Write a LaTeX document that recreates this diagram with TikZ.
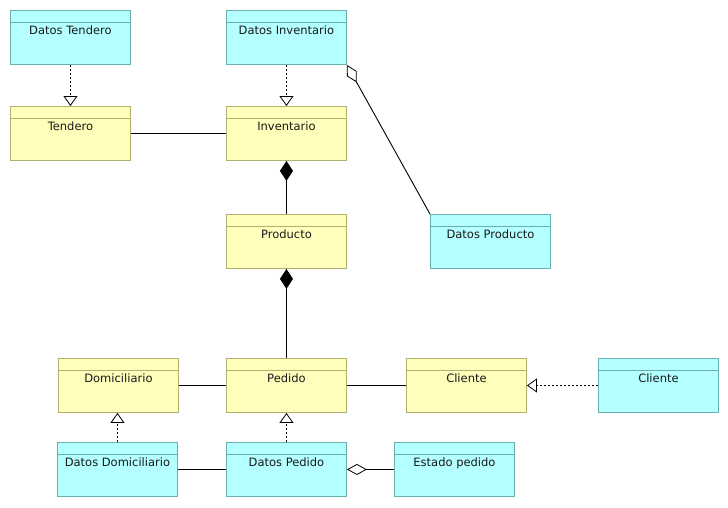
\documentclass[tikz,border=0pt]{standalone}
\usepackage{fontspec}
\setmainfont{DejaVu Sans}
\usetikzlibrary{arrows.meta}
\definecolor{yfill}{HTML}{FFFFBB}
\definecolor{ydraw}{HTML}{B0B070}
\definecolor{cfill}{HTML}{B4FFFF}
\definecolor{cdraw}{HTML}{6AAEAE}
\tikzset{
  classbox/.style={rectangle, inner sep=0pt, minimum width=120pt, minimum height=54pt, line width=0.9pt},
  ybox/.style={classbox, fill=yfill, draw=ydraw},
  cbox/.style={classbox, fill=cfill, draw=cdraw},
  ybox line/.style={draw=ydraw, line width=0.9pt},
  cbox line/.style={draw=cdraw, line width=0.9pt},
  lbl/.style={inner sep=0pt, font=\fontsize{11.5pt}{13pt}\selectfont, text=black!90},
  conn/.style={draw=black, line width=0.9pt},
  realiz/.style={conn, dash pattern=on 2pt off 2pt, -{Triangle[open,length=10pt,width=14pt,line width=0.8pt,sep=0pt]}},
  compo/.style={conn, {Diamond[length=20pt,width=13pt]}-},
  aggre/.style={conn, {Diamond[open,length=20pt,width=11pt,line width=0.8pt]}-},
}
\newcommand{\umlbox}[5]{%
  \node[#2, anchor=north west] (#1) at (#3,#4) {};
  \draw[#2 line] ([yshift=-12pt]#1.north west) -- ([yshift=-12pt]#1.north east);
  \node[lbl, anchor=base] (#1-t) at ([yshift=-24.5pt]#1.north) {#5};
}
\begin{document}
\begin{tikzpicture}[x=1pt, y=-1pt]
\useasboundingbox[fill=white] (0,0) rectangle (728,507);
\umlbox{dt}{cbox}{10}{10}{Datos Tendero}
\umlbox{di}{cbox}{226}{10}{Datos Inventario}
\umlbox{te}{ybox}{10}{106}{Tendero}
\umlbox{in}{ybox}{226}{106}{Inventario}
\umlbox{pr}{ybox}{226}{214}{Producto}
\umlbox{dp}{cbox}{430}{214}{Datos Producto}
\umlbox{do}{ybox}{58}{358}{Domiciliario}
\umlbox{pe}{ybox}{226}{358}{Pedido}
\umlbox{cl}{ybox}{406}{358}{Cliente}
\umlbox{cc}{cbox}{598}{358}{Cliente}
\umlbox{dd}{cbox}{57}{442}{Datos Domiciliario}
\umlbox{dpe}{cbox}{226}{442}{Datos Pedido}
\umlbox{ep}{cbox}{394}{442}{Estado pedido}

\draw[realiz] (dt) -- (te);
\draw[realiz] (di) -- (in);
\draw[conn] (te) -- (in);
\draw[compo] (in) -- (pr);
\draw[compo] (pr) -- (pe);
\draw[aggre] (di.south east) -- (dp.north west);
\draw[conn] (do) -- (pe);
\draw[conn] (pe) -- (cl);
\draw[realiz] (cc) -- (cl);
\draw[realiz] (dd.north) -- (dd.north |- do.south);
\draw[realiz] (dpe) -- (pe);
\draw[conn] (dd) -- (dpe);
\draw[aggre] (dpe) -- (ep);
\end{tikzpicture}
\end{document}
